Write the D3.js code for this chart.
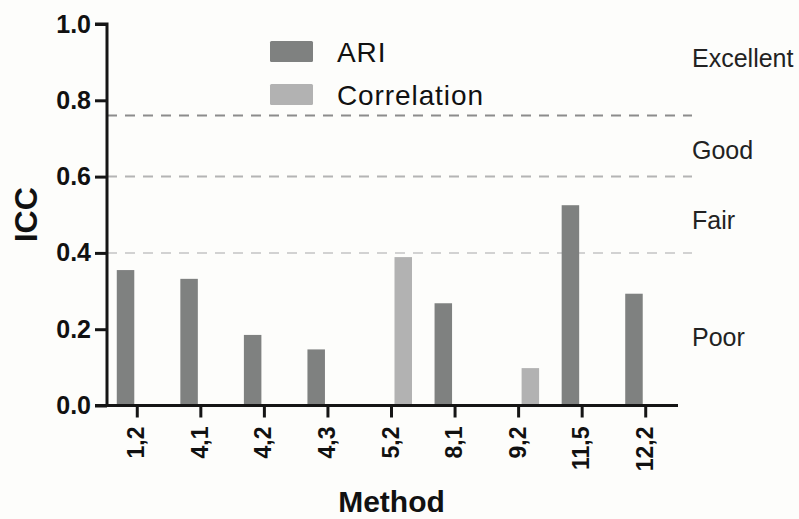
<!DOCTYPE html>
<html>
<head>
<meta charset="utf-8">
<script src="https://cdn.jsdelivr.net/npm/d3@7"></script>
<style>
  html, body { margin: 0; padding: 0; background: #fdfdfb; }
  svg { display: block; font-family: "Liberation Sans", Arial, sans-serif; }
</style>
</head>
<body>
<svg id="chart" width="799" height="519"></svg>
<script>
// ---- data ----
const methods = ["1,2", "4,1", "4,2", "4,3", "5,2", "8,1", "9,2", "11,5", "12,2"];
const seriesNames = ["ARI", "Correlation"];
const ariValues = [0.355, 0.332, 0.185, 0.147, null, 0.268, null, 0.525, 0.293];
const correlationValues = [null, null, null, null, 0.389, null, 0.098, null, null];
const yTicks = [0.0, 0.2, 0.4, 0.6, 0.8, 1.0];
const thresholds = [0.76, 0.6, 0.4];
const zoneNames = ["Excellent", "Good", "Fair", "Poor"];
const zoneLabelAt = [0.888, 0.645, 0.462, 0.155];

// ---- styles ----
const colors = { "ARI": "#7f8180", "Correlation": "#b2b2b2" };
const thresholdColors = ["#8c8c8c", "#b4b4b4", "#d2d2d2"];
const axisColor = "#151515";
const FONT = "'Liberation Sans', Arial, sans-serif";

const svg = d3.select("#chart");
svg.append("rect").attr("width", 799).attr("height", 519).attr("fill", "#fdfdfb");

const x = d3.scaleBand().domain(methods).range([105.5, 677.5]).padding(0);
const x1 = d3.scaleBand().domain(seriesNames).range([0, x.bandwidth()])
  .paddingInner(0.255).paddingOuter(0.48);
const y = d3.scaleLinear().domain([0, 1]).range([405.5, 24]);

const rows = methods.map((m, i) => ({ method: m, ARI: ariValues[i], Correlation: correlationValues[i] }));

// threshold dashed lines
svg.append("g").selectAll("line").data(thresholds).join("line")
  .attr("x1", 107).attr("x2", 692)
  .attr("y1", d => y(d)).attr("y2", d => y(d))
  .attr("stroke", (d, i) => thresholdColors[i])
  .attr("stroke-width", 2)
  .attr("stroke-dasharray", "10,8");

// bars
const groups = svg.append("g").selectAll("g").data(rows).join("g")
  .attr("transform", d => `translate(${x(d.method)},0)`);
groups.selectAll("rect")
  .data(d => seriesNames.filter(s => d[s] != null).map(s => ({ key: s, value: d[s] })))
  .join("rect")
  .attr("x", d => x1(d.key))
  .attr("width", x1.bandwidth())
  .attr("y", d => y(d.value))
  .attr("height", d => y(0) - y(d.value))
  .attr("fill", d => colors[d.key]);

// y axis
const yAxis = d3.axisLeft(y).tickValues(yTicks).tickFormat(d3.format(".1f")).tickSize(12).tickPadding(4);
const gy = svg.append("g").attr("transform", "translate(107,0)").call(yAxis);
gy.select(".domain").attr("stroke", axisColor).attr("stroke-width", 3)
  .attr("d", `M-12,${y(1)}H0V${y(0)}`);
gy.selectAll(".tick line").attr("stroke", axisColor).attr("stroke-width", 3);
gy.selectAll(".tick text").attr("fill", "#111").attr("font-size", 25).attr("font-weight", "bold")
  .attr("font-family", FONT);

// x axis
const xAxis = d3.axisBottom(x).tickSize(12).tickSizeOuter(0);
const gx = svg.append("g").attr("transform", `translate(0,${y(0)})`).call(xAxis);
gx.select(".domain").attr("stroke", axisColor).attr("stroke-width", 3)
  .attr("d", "M95,0H678");
gx.selectAll(".tick line").attr("stroke", axisColor).attr("stroke-width", 3);
gx.selectAll(".tick text")
  .attr("fill", "#111").attr("font-size", 23).attr("font-weight", "bold")
  .attr("font-family", FONT)
  .attr("text-anchor", "end")
  .attr("dy", null)
  .attr("y", 0).attr("x", 0)
  .attr("transform", "translate(7,21) rotate(-90)");

// axis titles
svg.append("text").attr("transform", `translate(37,${(y(0) + y(1)) / 2}) rotate(-90)`)
  .attr("text-anchor", "middle").attr("font-size", 32).attr("font-weight", "bold").attr("fill", "#111")
  .text("ICC");
svg.append("text").attr("x", (x.range()[0] + x.range()[1]) / 2).attr("y", 511.5)
  .attr("text-anchor", "middle").attr("font-size", 30).attr("font-weight", "bold").attr("fill", "#111")
  .text("Method");

// zone labels
svg.append("g").selectAll("text").data(zoneNames).join("text")
  .attr("x", 692).attr("y", (d, i) => y(zoneLabelAt[i]))
  .attr("font-size", 25).attr("fill", "#222")
  .text(d => d);

// legend
const legend = svg.append("g").selectAll("g").data(seriesNames).join("g")
  .attr("transform", (d, i) => `translate(270,${41 + i * 43})`);
legend.append("rect").attr("width", 43).attr("height", 21).attr("rx", 1.5)
  .attr("fill", d => colors[d]);
legend.append("text").attr("x", 67).attr("y", 20.5)
  .attr("font-size", 28).attr("letter-spacing", 0.9).attr("fill", "#111")
  .text(d => d);
</script>
</body>
</html>
